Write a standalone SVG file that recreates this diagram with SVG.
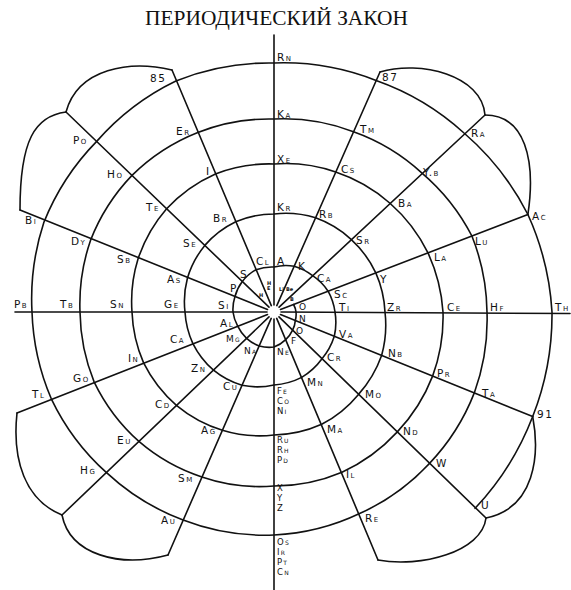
<svg xmlns="http://www.w3.org/2000/svg" width="571" height="590" viewBox="0 0 571 590">
<style>
.ln{fill:none;stroke:#111;stroke-width:1.6;stroke-linecap:round}
.t{font-family:"DejaVu Sans",sans-serif;font-size:10.5px;font-variant:small-caps;letter-spacing:1.5px;fill:#111}
.st{font-size:8.5px;letter-spacing:1.2px}
.sm{font-size:9px;letter-spacing:1.2px}
.tiny{font-family:"DejaVu Sans",sans-serif;font-size:5px;font-weight:bold;fill:#111}
.title{font-family:"Liberation Serif",serif;font-size:21px;fill:#111}
</style>
<rect width="571" height="590" fill="#fff"/>
<text class="title" x="145" y="25" textLength="263" lengthAdjust="spacingAndGlyphs">ПЕРИОДИЧЕСКИЙ ЗАКОН</text>
<g id="spokes" class="ln">
<line x1="274" y1="305" x2="274" y2="35"/>
<line x1="276.8" y1="305.6" x2="380" y2="72"/>
<line x1="279.1" y1="307.2" x2="485" y2="115"/>
<line x1="280.5" y1="309.5" x2="527.9" y2="214.5"/>
<line x1="281" y1="312" x2="570" y2="313.5"/>
<line x1="280.5" y1="314.6" x2="532.7" y2="416.5"/>
<line x1="279" y1="316.9" x2="486" y2="518"/>
<line x1="276.7" y1="318.4" x2="378" y2="560"/>
<line x1="274" y1="319" x2="274" y2="590"/>
<line x1="271.2" y1="318.4" x2="168" y2="555"/>
<line x1="269" y1="316.9" x2="62" y2="515"/>
<line x1="267.5" y1="314.5" x2="17" y2="413"/>
<line x1="267" y1="312" x2="15" y2="312"/>
<line x1="267.5" y1="309.5" x2="20" y2="210"/>
<line x1="269" y1="307.1" x2="66" y2="112"/>
<line x1="271.3" y1="305.6" x2="172" y2="70"/>
</g>
<g id="spiral" class="ln">
<path d="M293.6,304.5 A21.5,21.5 0 0 1 296,312 A22.5,22.5 0 0 1 295.3,320.6 A24.5,24.5 0 0 1 292.6,330.2 A28,28 0 0 1 285.7,339.6 A32.5,32.5 0 0 1 274,347 A36,36 0 0 1 259.2,345.9 A37.5,37.5 0 0 1 246.6,338.3 A38.5,38.5 0 0 1 237.7,326.2 A40,40 0 0 1 233,312 A41.5,41.5 0 0 1 234.9,296.7 A43,43 0 0 1 242.3,281.5 A45,45 0 0 1 256,269.7 A45.5,45.5 0 0 1 274,267 A47.5,47.5 0 0 1 294.2,266.2 A51.5,51.5 0 0 1 312.6,275.7 A55.5,55.5 0 0 1 328.1,291.2 A59.5,59.5 0 0 1 335,312 A63,63 0 0 1 334.3,336.3 A66,66 0 0 1 322,358.8 A69,69 0 0 1 301.7,377.4 A72,72 0 0 1 274,385 A76.5,76.5 0 0 1 242,385.3 A82,82 0 0 1 213.5,370.2 A85.5,85.5 0 0 1 192.9,343.6 A88,88 0 0 1 185,312 A91,91 0 0 1 187.4,278.2 A94.5,94.5 0 0 1 204.8,245.4 A97,97 0 0 1 235.7,221.8 A98,98 0 0 1 274,214 A100.5,100.5 0 0 1 315.6,217.8 A104.5,104.5 0 0 1 351.1,239.3 A107.5,107.5 0 0 1 375.8,272.9 A110,110 0 0 1 385,312 A113.5,113.5 0 0 1 381.6,355.5 A117,117 0 0 1 358.5,394.4 A120,120 0 0 1 321.7,424.3 A122.5,122.5 0 0 1 274,435 A126,126 0 0 1 222.4,430.2 A132,132 0 0 1 176.7,405.6 A137.5,137.5 0 0 1 143.6,362.9 A141,141 0 0 1 132,312 A144,144 0 0 1 138,259 A147.5,147.5 0 0 1 166.6,208.7 A149.5,149.5 0 0 1 215.4,173.9 A149,149 0 0 1 274,164 A150.5,150.5 0 0 1 335.7,172 A156,156 0 0 1 389.7,203 A162,162 0 0 1 428,252.9 A167,167 0 0 1 443,312 A170,170 0 0 1 432.6,376.1 A171.5,171.5 0 0 1 397.1,432.1 A173,173 0 0 1 342,472.2 A174,174 0 0 1 274,486 A177,177 0 0 1 201.9,477 A183.5,183.5 0 0 1 139.2,441.7 A190,190 0 0 1 94.2,382.1 A193.5,193.5 0 0 1 80,312 A195.5,195.5 0 0 1 90.5,240.4 A197,197 0 0 1 132,175.4 A196,196 0 0 1 197.8,132.5 A194,194 0 0 1 274,119 A195,195 0 0 1 353.5,131.7 A200,200 0 0 1 421.7,172.8 A207.5,207.5 0 0 1 471.9,236 A212.5,212.5 0 0 1 487,312 A214.5,214.5 0 0 1 474.3,392.9 A216.5,216.5 0 0 1 429.3,463.6 A218,218 0 0 1 359.6,513.6 A221,221 0 0 1 274,535 A225,225 0 0 1 183.1,520 A229.5,229.5 0 0 1 106.8,472.9 A235.5,235.5 0 0 1 51.3,398.8 A240.5,240.5 0 0 1 32,312 A244.5,244.5 0 0 1 43.9,222.3 A246.5,246.5 0 0 1 96.7,141.4 A248.5,248.5 0 0 1 175.9,81 A250,250 0 0 1 274,63 A251,251 0 0 1 376.1,80.5 A257,257 0 0 1 464,133 A266.5,266.5 0 0 1 527.9,214.5 A275,275 0 0 1 552,312 A278.5,278.5 0 0 1 532.7,416.5 A280,280 0 0 1 475.1,508.3"/>
</g>
<g id="outline" class="ln">
<path d="M172,70 C130,60 78,68 66,112"/>
<path d="M66,112 C35,116 20,140 20,210"/>
<path d="M380,72 C420,60 482,75 485,115"/>
<path d="M485,115 C525,115 536,160 527.9,214.5"/>
<path d="M532.7,416.5 C540,455 535,508 486,518"/>
<path d="M486,518 C482,552 420,568 378,560"/>
<path d="M168,555 C120,568 70,555 62,515"/>
<path d="M62,515 C25,500 12,460 17,413"/>
</g>
<g id="center-labels">
<text class="tiny" x="259" y="297">H</text>
<text class="tiny" x="267" y="285">H</text>
<text class="tiny" x="267" y="290">E</text>
<text class="tiny" x="279" y="291">Li</text>
<text class="tiny" x="286" y="291">Be</text>
<text class="tiny" x="290" y="301">B</text>
</g>
<g id="labels" class="t">
<text x="277" y="61">Rn</text>
<text x="277" y="118">Ka</text>
<text x="277" y="163">Xe</text>
<text x="277" y="211">Kr</text>
<text x="277" y="265">A</text>
<text x="150" y="82">85</text>
<text x="73" y="144">Po</text>
<text x="176" y="135">Er</text>
<text x="107" y="178">Ho</text>
<text x="206" y="175">I</text>
<text x="382" y="81">87</text>
<text x="360" y="133">Tm</text>
<text x="341" y="173">Cs</text>
<text x="471" y="137">Ra</text>
<text x="423" y="176">Y.b</text>
<text x="25" y="224">Bi</text>
<text x="71" y="245">Dy</text>
<text x="117" y="263">Sb</text>
<text x="146" y="211">Te</text>
<text x="213" y="222">Br</text>
<text x="183" y="247">Se</text>
<text x="167" y="283">As</text>
<text x="256" y="265">Cl</text>
<text x="240" y="278">S</text>
<text x="230" y="292">P</text>
<text x="14" y="308">Pb</text>
<text x="60" y="308">Tb</text>
<text x="110" y="308">Sn</text>
<text x="164" y="308">Ge</text>
<text x="218" y="309">Si</text>
<text x="220" y="327">Al</text>
<text x="170" y="343">Ca</text>
<text x="128" y="362">In</text>
<text x="191" y="372">Zn</text>
<text x="73" y="382">Go</text>
<text x="223" y="390">Cu</text>
<text x="398" y="207">Ba</text>
<text x="319" y="218">Rb</text>
<text x="356" y="244">Sr</text>
<text x="532" y="220">Ac</text>
<text x="475" y="245">Lu</text>
<text x="434" y="261">La</text>
<text x="298" y="270">K</text>
<text x="317" y="282">Ca</text>
<text x="380" y="283">Y</text>
<text x="334" y="298">Sc</text>
<text x="339" y="311">Ti</text>
<text x="387" y="311">Zr</text>
<text x="447" y="311">Ce</text>
<text x="490" y="311">Hf</text>
<text x="555" y="311">Th</text>
<text x="339" y="338">Va</text>
<text x="388" y="357">Nb</text>
<text x="327" y="361">Cr</text>
<text x="437" y="377">Pr</text>
<text x="307" y="386">Mn</text>
<text x="32" y="398">Tl</text>
<text x="155" y="408">Cd</text>
<text x="201" y="434">Ag</text>
<text x="117" y="444">Eu</text>
<text x="80" y="474">Hg</text>
<text x="178" y="482">Sm</text>
<text x="161" y="524">Au</text>
<text x="365" y="398">Mo</text>
<text x="482" y="397">Ta</text>
<text x="537" y="418">91</text>
<text x="327" y="433">Ma</text>
<text x="403" y="435">Nd</text>
<text x="436" y="467">W</text>
<text x="346" y="478">Il</text>
<text x="481" y="509">U</text>
<text x="365" y="522">Re</text>
</g>
<g id="inner-labels" class="t sm">
<text x="299" y="310">O</text>
<text x="299" y="322">N</text>
<text x="296" y="334">O</text>
<text x="291" y="344">F</text>
<text x="277" y="355">Ne</text>
<text x="244" y="354">Na</text>
<text x="226" y="342">Mg</text>
</g>
<g id="stacks" class="t st">
<text x="277" y="394">Fe</text>
<text x="277" y="404">Co</text>
<text x="277" y="414">Ni</text>
<text x="277" y="443">Ru</text>
<text x="277" y="453">Rh</text>
<text x="277" y="463">Pd</text>
<text x="277" y="491">X</text>
<text x="277" y="501">Y</text>
<text x="277" y="511">Z</text>
<text x="277" y="545">Os</text>
<text x="277" y="555">Ir</text>
<text x="277" y="565">Pt</text>
<text x="277" y="575">Cn</text>
</g>
</svg>
